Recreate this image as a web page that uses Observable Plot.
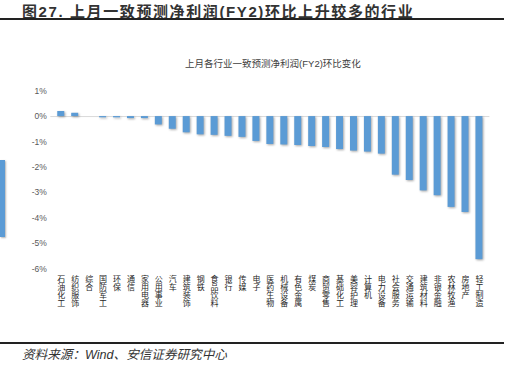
<!DOCTYPE html>
<html>
<head>
<meta charset="utf-8">
<script src="https://cdn.jsdelivr.net/npm/d3@7"></script>
<script src="https://cdn.jsdelivr.net/npm/@observablehq/plot@0.6"></script>
<style>
  html, body { margin: 0; padding: 0; background: #fff; }
  #page { position: relative; width: 517px; height: 366px; overflow: hidden; font-family: "Liberation Sans", Arial, "Noto Sans CJK SC", sans-serif; }
  #title { position: absolute; left: 22px; top: 0px; font-size: 15px; letter-spacing: 1.6px; font-weight: bold; color: #333; white-space: nowrap; }
  #topline { position: absolute; left: 0; top: 18px; width: 504px; height: 1.5px; background: #222; }
  #subtitle { position: absolute; left: 0; width: 546px; top: 56px; text-align: center; font-size: 9.5px; color: #404040; white-space: nowrap; }
  #chart { position: absolute; left: 0; top: 70px; }
  #botline { position: absolute; left: 0; top: 342px; width: 504px; height: 1.5px; background: #222; }
  #source { position: absolute; left: 22px; top: 344px; font-size: 12.6px; font-style: italic; color: #333; white-space: nowrap; }
  #frag { position: absolute; left: 0; top: 160px; width: 5px; height: 77px; background: #5B9BD5; box-shadow: 1px 1px 2px rgba(0,0,0,0.3); }
  g[aria-label="bar"] { filter: drop-shadow(1.5px 1.5px 1px rgba(0,0,0,0.35)); }
</style>
</head>
<body>
<div id="page">
  <div id="title">图27. 上月一致预测净利润(FY2)环比上升较多的行业</div>
  <div id="topline"></div>
  <div id="subtitle">上月各行业一致预测净利润(FY2)环比变化</div>
  <div id="frag"></div>
  <div id="chart"></div>
  <div id="botline"></div>
  <div id="source">资料来源：Wind、安信证券研究中心</div>
</div>
<script>
const categories = ["石油化工","纺织服饰","综合","国防军工","环保","通信","家用电器","公用事业","汽车","建筑装饰","钢铁","食品饮料","银行","传媒","电子","医药生物","机械设备","有色金属","煤炭","商贸零售","基础化工","美容护理","计算机","电力设备","社会服务","交通运输","建筑材料","非银金融","农林牧渔","房地产","轻工制造"];
const values = [0.20,0.13,0.0,-0.05,-0.05,-0.08,-0.08,-0.33,-0.50,-0.64,-0.72,-0.74,-0.78,-0.82,-0.98,-1.10,-1.12,-1.14,-1.18,-1.22,-1.30,-1.36,-1.40,-1.48,-2.31,-2.52,-2.93,-3.12,-3.58,-3.78,-5.64];
const yTicks = [1,0,-1,-2,-3,-4,-5,-6];

const data = categories.map((name, i) => ({name, value: values[i]}));

const chart = Plot.plot({
  width: 517,
  height: 250,
  marginLeft: 50.3,
  marginRight: 27.6,
  marginTop: 20.7,
  marginBottom: 51.7,
  style: {fontFamily: "'Liberation Sans', Arial, 'Noto Sans CJK SC', sans-serif", background: "transparent"},
  x: {domain: categories, paddingInner: 0.5, paddingOuter: 0.5, round: false},
  y: {domain: [-6, 1]},
  marks: [
    Plot.ruleY([0], {stroke: "#d9d9d9", strokeWidth: 1}),
    Plot.barY(data, {x: "name", y: "value", fill: "#5B9BD5"}),
    Plot.axisY({ticks: yTicks, tickSize: 0, tickPadding: 4, tickFormat: d => d + "%", fontSize: 8.5, fill: "#595959", label: null}),
    Plot.axisX({tickSize: 0, tickPadding: 6, rotate: 0, textAnchor: "start", fontSize: 8, fill: "#262626", label: null, fontFamily: "'Noto Sans CJK SC', sans-serif"})
  ]
});
// stack the category labels vertically, one character under another
d3.select(chart).selectAll('g[aria-label="x-axis tick label"] text')
  .attr("dy", null)
  .attr("y", null)
  .style("writing-mode", "vertical-rl")
  .style("text-orientation", "upright")
  .attr("text-anchor", "start");
document.getElementById("chart").appendChild(chart);
</script>
</body>
</html>
